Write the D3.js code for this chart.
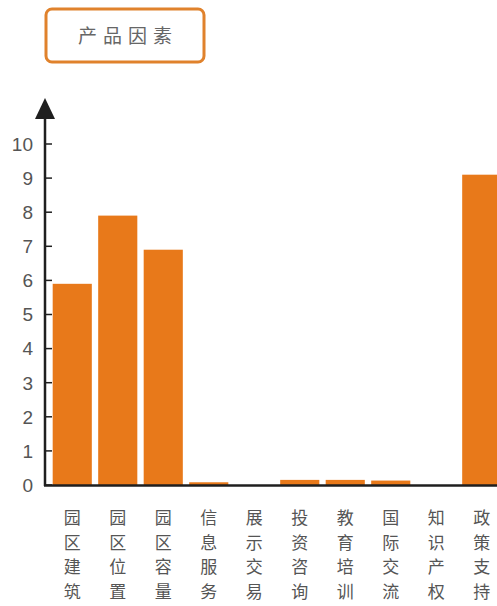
<!DOCTYPE html>
<html>
<head>
<meta charset="utf-8">
<script src="https://cdn.jsdelivr.net/npm/d3@7"></script>
<style>
  html, body { margin: 0; padding: 0; background: #fff; overflow: hidden; }
  svg { display: block; }
</style>
</head>
<body>
<svg id="chart" width="497" height="606"></svg>
<script>
// Product factor scores by category
const categories = ["园区建筑", "园区位置", "园区容量", "信息服务", "展示交易", "投资咨询", "教育培训", "国际交流", "知识产权", "政策支持"];
const values = [5.9, 7.9, 6.9, 0.08, 0, 0.15, 0.15, 0.13, 0, 9.1];
const yTicks = [0, 1, 2, 3, 4, 5, 6, 7, 8, 9, 10];
const title = "产品因素";

const W = 497, H = 606;
const svg = d3.select("#chart");
const orange = "#E8791A";
const axisColor = "#1f1f1f";

const x = d3.scaleBand()
  .domain(categories)
  .range([49.5, 504.5])
  .paddingInner(0.14)
  .paddingOuter(0.07);

const y = d3.scaleLinear().domain([0, 10]).range([485, 144]);

// Title box
const tb = svg.append("g");
tb.append("rect")
  .attr("x", 46).attr("y", 9).attr("width", 158).attr("height", 53)
  .attr("rx", 6).attr("ry", 6)
  .attr("fill", "#fff").attr("stroke", "#E0822C").attr("stroke-width", 3);
tb.append("text")
  .attr("x", 128).attr("y", 43)
  .attr("text-anchor", "middle")
  .attr("font-family", "'Noto Sans CJK SC', sans-serif")
  .attr("font-size", 19)
  .attr("letter-spacing", 6)
  .attr("fill", "#666")
  .text(title);

// Bars
svg.append("g")
  .selectAll("rect")
  .data(values)
  .join("rect")
  .attr("x", (d, i) => x(categories[i]))
  .attr("width", x.bandwidth())
  .attr("y", d => y(d))
  .attr("height", d => y(0) - y(d))
  .attr("fill", orange);

// Y axis: ticks pointing inward, labels on the left
const yAxis = svg.append("g").attr("transform", "translate(45,0)");
yAxis.selectAll("line.tick")
  .data(yTicks)
  .join("line")
  .attr("class", "tick")
  .attr("x1", 0).attr("x2", 7)
  .attr("y1", d => y(d)).attr("y2", d => y(d))
  .attr("stroke", axisColor).attr("stroke-width", 1.5);
yAxis.selectAll("text")
  .data(yTicks)
  .join("text")
  .attr("x", -12)
  .attr("y", d => y(d))
  .attr("dy", "0.36em")
  .attr("text-anchor", "end")
  .attr("font-family", "'Liberation Sans', Arial, sans-serif")
  .attr("font-size", 19)
  .attr("fill", "#555")
  .text(d => d);

// Axis lines with arrow on the vertical axis
svg.append("line")
  .attr("x1", 45).attr("x2", 45)
  .attr("y1", y(0) + 1).attr("y2", 112)
  .attr("stroke", axisColor).attr("stroke-width", 2.5);
svg.append("path")
  .attr("d", "M45,98 L55,119 L35,119 Z")
  .attr("fill", axisColor);
svg.append("line")
  .attr("x1", 44).attr("x2", W)
  .attr("y1", y(0) + 0.5).attr("y2", y(0) + 0.5)
  .attr("stroke", axisColor).attr("stroke-width", 2.5);

// Category labels, written vertically one character per line
const lab = svg.append("g")
  .attr("font-family", "'Noto Sans CJK SC', sans-serif")
  .attr("font-size", 17)
  .attr("fill", "#555")
  .attr("text-anchor", "middle");
categories.forEach(c => {
  const cx = x(c) + x.bandwidth() / 2;
  const t = lab.append("text").attr("x", cx).attr("y", 524);
  Array.from(c).forEach((ch, j) => {
    t.append("tspan").attr("x", cx).attr("dy", j === 0 ? 0 : 24.5).text(ch);
  });
});
</script>
</body>
</html>
